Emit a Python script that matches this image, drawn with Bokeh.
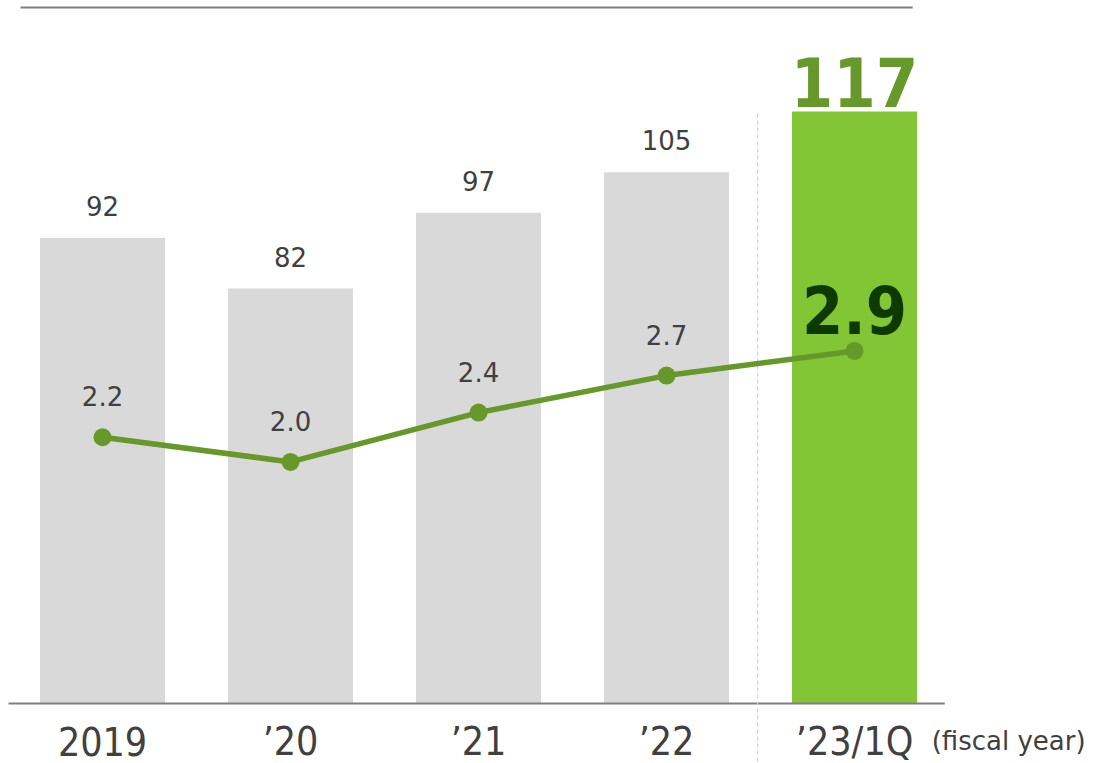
from bokeh.plotting import figure
from bokeh.models import Range1d, ColumnDataSource
from bokeh.core.properties import value
from bokeh.embed import file_html
from bokeh.resources import INLINE

categories = ["2019", "\u201920", "\u201921", "\u201922", "\u201923/1Q"]
bar_values = [92, 82, 97, 105, 117]
line_values = [2.2, 2.0, 2.4, 2.7, 2.9]
bar_labels = ["92", "82", "97", "105", "117"]
line_labels = ["2.2", "2.0", "2.4", "2.7", "2.9"]

GRAY = "#d9d9d9"
GREEN = "#82c636"
LINE_GREEN = "#66982a"
DARK_GREEN = "#0c3a00"
TEXT = "#404040"
FONT = "DejaVu Sans"
COND = "DejaVu Sans Condensed"

xs = list(range(len(categories)))
n = len(categories)

p = figure(width=1093, height=763, output_backend="svg", toolbar_location=None,
           x_range=Range1d(-0.5426, 5.271), y_range=Range1d(-11.86, 138.93),
           min_border=0, min_border_left=0, min_border_right=0,
           min_border_top=0, min_border_bottom=0)
p.extra_y_ranges = {"rate": Range1d(-0.446, 5.742)}
p.xaxis.visible = False
p.yaxis.visible = False
p.grid.visible = False
p.outline_line_color = None
p.background_fill_color = "white"
p.border_fill_color = "white"

colors = [GRAY] * (n - 1) + [GREEN]
src = ColumnDataSource(dict(x=xs, top=bar_values, color=colors, cat=categories))

p.vbar(x="x", top="top", bottom=0, width=0.665, fill_color="color", line_color=None, source=src)

# top rule
p.segment(x0=[-0.436], x1=[4.309], y0=[137.55], y1=[137.55], line_color="#7f7f7f", line_width=2)
# baseline
p.segment(x0=[-0.5], x1=[4.48], y0=[0], y1=[0], line_color="#7f7f7f", line_width=2)
# dashed separator
p.segment(x0=[3.484], x1=[3.484], y0=[116.6], y1=[-11.86], line_color="#d0d0d0",
          line_width=1.2, line_dash="4 3")

# bar labels
sub = ColumnDataSource(dict(x=xs[:-1], y=bar_values[:-1], t=bar_labels[:-1]))
p.text(x="x", y="y", text="t", source=sub, text_align="center", text_baseline="middle",
       y_offset=-32, text_font=value(FONT), text_font_size="26px", text_color=TEXT)
p.text(x=[xs[-1]], y=[bar_values[-1]], text=[bar_labels[-1]], text_align="center",
       text_baseline="middle", y_offset=-29, text_font=value(COND), text_font_style="bold",
       text_font_size="68px", text_color=LINE_GREEN)

# line
p.line(x=xs, y=line_values, y_range_name="rate", line_color=LINE_GREEN, line_width=5.5)
p.scatter(x=xs, y=line_values, y_range_name="rate", size=18, fill_color=LINE_GREEN,
          line_color=None)
lsub = ColumnDataSource(dict(x=xs[:-1], y=line_values[:-1], t=line_labels[:-1]))
p.text(x="x", y="y", text="t", source=lsub, y_range_name="rate", text_align="center",
       text_baseline="middle", y_offset=-41, text_font=value(FONT), text_font_size="26px",
       text_color=TEXT)
p.text(x=[xs[-1]], y=[line_values[-1]], text=[line_labels[-1]], y_range_name="rate",
       text_align="center", text_baseline="middle", y_offset=-41, text_font=value(COND),
       text_font_style="bold", text_font_size="66px", text_color=DARK_GREEN)

# category labels
p.text(x="x", y=0, text="cat", source=src, text_align="center", text_baseline="middle",
       y_offset=38, text_font=value(COND), text_font_size="39px", text_color=TEXT,
       text_line_height=1.0)
p.text(x=[4.41], y=[0], text=["(fiscal year)"], text_align="left", text_baseline="middle",
       y_offset=38, text_font=value(FONT), text_font_size="26px", text_color=TEXT,
       text_line_height=1.0)

open("out.html", "w").write(file_html(p, INLINE))
